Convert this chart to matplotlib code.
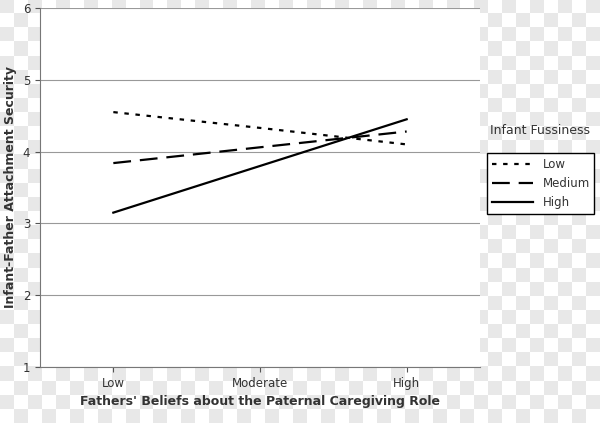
import matplotlib.pyplot as plt
import numpy as np

categories = ["Low", "Moderate", "High"]
series_names = ["Low", "Medium", "High"]
low_vals = [4.55, 4.33, 4.10]
medium_vals = [3.84, 4.06, 4.28]
high_vals = [3.15, 3.80, 4.45]

fig = plt.figure(figsize=(6.0, 4.23), dpi=100)

# checkered background as in the reference
bg = fig.add_axes([0, 0, 1, 1], zorder=-10)
checker = np.indices((30, 43)).sum(axis=0) % 2
bg.imshow(checker, cmap="gray", vmin=-10, vmax=1, aspect="auto", interpolation="nearest")
bg.axis("off")

ax = fig.add_axes([40 / 600, 56 / 423, 440 / 600, 359 / 423])
ax.set_facecolor("white")
x = np.arange(len(categories)) + 0.5
styles = [(0, (2, 3)), (0, (8, 4)), "-"]
for name, vals, ls in zip(series_names, [low_vals, medium_vals, high_vals], styles):
    ax.plot(x, vals, color="black", linestyle=ls, linewidth=1.6, label=name)

ax.set_xlim(0, 3)
ax.set_ylim(1, 6)
ax.set_yticks([1, 2, 3, 4, 5, 6])
ax.set_xticks(x)
ax.set_xticklabels(categories)
ax.yaxis.grid(True, color="#999999", linewidth=0.8)
ax.set_axisbelow(True)
for s in ["top", "right"]:
    ax.spines[s].set_visible(False)
ax.spines["left"].set_color("#777777")
ax.spines["bottom"].set_color("#777777")
ax.tick_params(colors="#555555", labelsize=8.5, labelcolor="#333333")
ax.set_xlabel("Fathers' Beliefs about the Paternal Caregiving Role",
              fontsize=9, fontweight="bold", color="#333333")
ax.set_ylabel("Infant-Father Attachment Security",
              fontsize=9, fontweight="bold", color="#333333")

fig.text(490 / 600, 1 - 131 / 423, "Infant Fussiness", fontsize=9,
         color="#333333", va="center")
leg = ax.legend(loc="upper left", bbox_to_anchor=(447 / 440, 0.595),
                frameon=True, fancybox=False, edgecolor="black",
                fontsize=8.5, handlelength=3.5, borderaxespad=0)
leg.get_frame().set_alpha(1)
for t in leg.get_texts():
    t.set_color("#333333")

fig.savefig("out.png", dpi=100)
